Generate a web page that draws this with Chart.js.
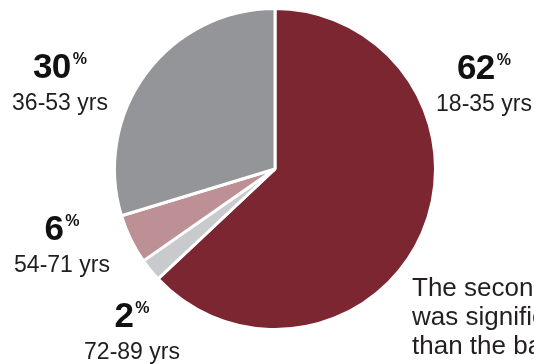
<!DOCTYPE html>
<html>
<head>
<meta charset="utf-8">
<script src="https://cdn.jsdelivr.net/npm/chart.js@4"></script>
<style>
  html, body { margin: 0; padding: 0; background: #fff; }
  body { width: 534px; height: 364px; overflow: hidden; position: relative; font-family: "Liberation Sans", Arial, sans-serif; color: #1e1e1e; }
  #chart { position: absolute; left: 0; top: 0; }
  .lbl { position: absolute; width: 140px; text-align: center; white-space: nowrap; }
  .num { font-weight: bold; font-size: 35px; line-height: 35px; letter-spacing: -0.5px; color: #111; }
  .num sup { font-size: 16px; vertical-align: 14px; line-height: 0; margin-left: 2px; letter-spacing: 0; }
  .age { font-size: 23px; line-height: 23px; margin-top: 8px; }
  #note { position: absolute; left: 412px; top: 273px; font-size: 26px; line-height: 29px; white-space: nowrap; color: #231f20; }
</style>
</head>
<body>
<canvas id="chart" width="534" height="364"></canvas>
<div id="labels"></div>
<div id="note">The second<br>was significantly<br>than the base</div>
<script>
// age groups, clockwise from 12 o'clock
const ageGroups = ['18-35 yrs', '72-89 yrs', '54-71 yrs', '36-53 yrs'];
const shareLabels = ['62', '2', '6', '30'];
const shares = [63, 2.3, 5, 29.7];
const sliceColors = ['#7b2631', '#c9cacc', '#bd9095', '#939598'];

// label centre x and top y (layout only)
const labelPos = [[484, 49], [132, 297], [62, 210], [60, 48]];

const box = document.getElementById('labels');
ageGroups.forEach((g, i) => {
    const d = document.createElement('div');
    d.className = 'lbl';
    d.style.left = (labelPos[i][0] - 70) + 'px';
    d.style.top = labelPos[i][1] + 'px';
    d.innerHTML = '<div class="num">' + shareLabels[i] + '<sup>%</sup></div><div class="age">' + g + '</div>';
    box.appendChild(d);
});

const ctx = document.getElementById('chart').getContext('2d');
const ageChart = new Chart(ctx, {
    type: 'pie',
    data: {
        labels: ageGroups,
        datasets: [{
            data: shares,
            backgroundColor: sliceColors,
            borderColor: '#ffffff',
            borderWidth: 3,
        }],
    },
    options: {
        responsive: false,
        animation: false,
        layout: { padding: { left: 112, right: 96, top: 7, bottom: 33 } },
        plugins: {
            legend: { display: false },
            tooltip: { enabled: false },
        },
    },
});
</script>
</body>
</html>
